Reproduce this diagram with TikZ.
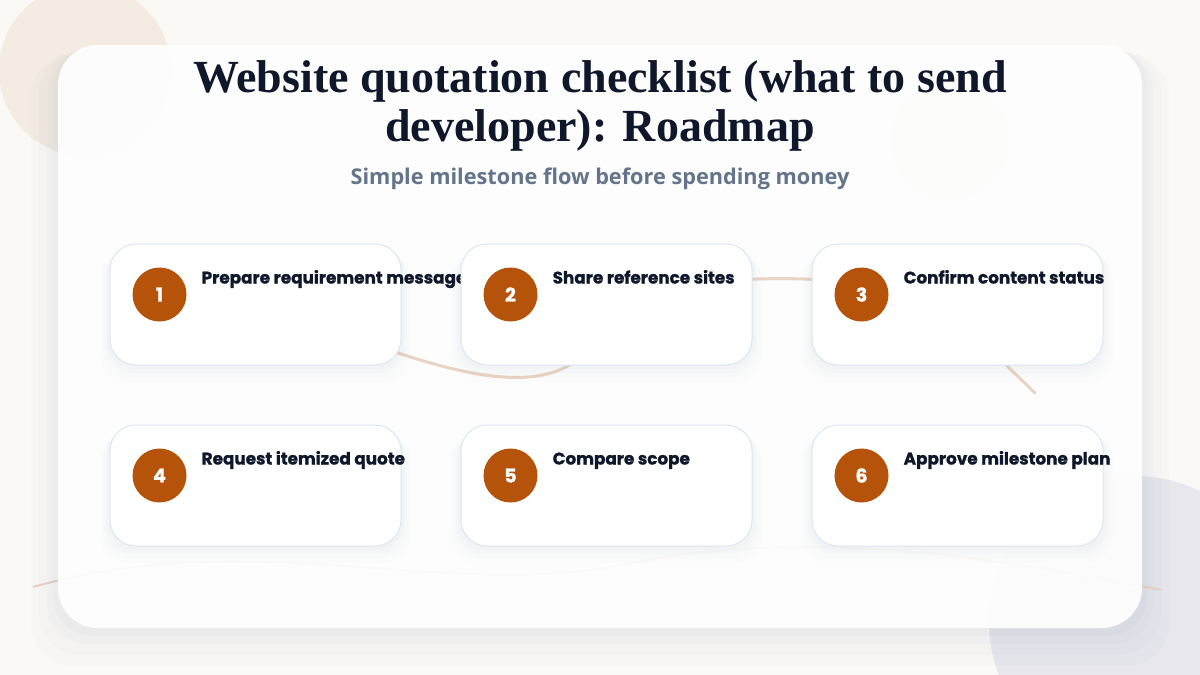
\documentclass[tikz,border=0pt]{standalone}
\usepackage{fontspec}
\setmainfont{Liberation Serif}
\newfontfamily\headfont{Liberation Serif}
\newfontfamily\subfont{Open Sans}
\newfontfamily\stepfont{Poppins}[BoldFeatures={FakeBold=1.2}]
\usetikzlibrary{positioning,shadows}
\definecolor{paper}{HTML}{FBF9F6}
\definecolor{ink}{HTML}{0F172A}
\definecolor{muted}{HTML}{64748B}
\definecolor{amber}{HTML}{B45309}
\definecolor{edge}{HTML}{DCE6F5}
\definecolor{trail}{HTML}{E8D4C2}
\definecolor{sand}{HTML}{F4ECE2}
\definecolor{mist}{HTML}{E7E7ED}
\definecolor{haze}{HTML}{7080A0}
\pgfdeclarelayer{back}
\pgfdeclarelayer{links}
\pgfsetlayers{back,links,main}
\tikzset{
  panel/.style={
    fill=white,
    fill opacity=.92,
    rounded corners=40pt,
    general shadow={shadow yshift=-22pt, shadow scale=1.05, fill=haze, opacity=.018},
    general shadow={shadow yshift=-16pt, shadow scale=1.035, fill=haze, opacity=.022},
    general shadow={shadow yshift=-10pt, shadow scale=1.02, fill=haze, opacity=.028},
    general shadow={shadow yshift=-5pt, shadow scale=1.01, fill=haze, opacity=.032}
  },
  stepcard/.style={
    draw=edge,
    line width=1pt,
    fill=white,
    rounded corners=26pt,
    minimum width=291pt,
    minimum height=121pt,
    inner sep=0pt,
    general shadow={shadow yshift=-12pt, shadow scale=1.07, fill=haze, opacity=.012},
    general shadow={shadow yshift=-9pt, shadow scale=1.05, fill=haze, opacity=.015},
    general shadow={shadow yshift=-6pt, shadow scale=1.03, fill=haze, opacity=.02},
    general shadow={shadow yshift=-3pt, shadow scale=1.015, fill=haze, opacity=.025}
  },
  badge/.style={
    circle,
    fill=amber,
    minimum size=54pt,
    inner sep=0pt,
    text=white,
    font=\stepfont\bfseries\fontsize{19}{19}\selectfont
  },
  steptext/.style={
    anchor=base west,
    inner sep=0pt,
    text=ink,
    font=\stepfont\bfseries\fontsize{16.8}{16.8}\selectfont
  },
  flow/.style={
    draw=trail,
    line width=3pt,
    line cap=round
  }
}

\begin{document}
\begin{tikzpicture}[x=1pt, y=-1pt, node distance=59pt and 59pt]
  \useasboundingbox (0,0) rectangle (1200,675);

  % backdrop
  \begin{pgfonlayer}{back}
    \fill[paper] (0,0) rectangle (1200,675);
    \fill[sand] (85,70) circle[radius=86pt];
    \fill[mist] (1135,622) circle[radius=146pt];
    \draw[trail, line width=2pt] (33,587) .. controls (250,525) and (450,600) .. (620,565)
      .. controls (820,525) and (1000,560) .. (1162,590);
    \path[panel] (58,45) rectangle (1142,628);
    \fill[sand, opacity=.06] (950,140) circle[radius=58pt];
  \end{pgfonlayer}

  % heading
  \node[anchor=north, inner sep=0pt, align=center, text=ink,
    font=\headfont\bfseries\fontsize{46}{49}\selectfont] (title) at (600,60)
    {Website quotation checklist (what to send\\developer): Roadmap};
  \node[anchor=base, inner sep=0pt, text=muted,
    font=\subfont\bfseries\fontsize{21.7}{21.7}\selectfont] (subtitle) at (600,184)
    {Simple milestone flow before spending money};

  % steps
  \node[stepcard] (s1) at (255.5,304.5) {};
  \node[badge] (b1) at ([xshift=50pt, yshift=10pt]s1.west) {1};
  \node[steptext] (t1) at ([xshift=92pt, yshift=-40pt]s1.north west) {Prepare requirement message};

  \node[stepcard, right=of s1] (s2) {};
  \node[badge] (b2) at ([xshift=50pt, yshift=10pt]s2.west) {2};
  \node[steptext] (t2) at ([xshift=92pt, yshift=-40pt]s2.north west) {Share reference sites};

  \node[stepcard, right=of s2] (s3) {};
  \node[badge] (b3) at ([xshift=50pt, yshift=10pt]s3.west) {3};
  \node[steptext] (t3) at ([xshift=92pt, yshift=-40pt]s3.north west) {Confirm content status};

  \node[stepcard, below=of s1] (s4) {};
  \node[badge] (b4) at ([xshift=50pt, yshift=10pt]s4.west) {4};
  \node[steptext] (t4) at ([xshift=92pt, yshift=-40pt]s4.north west) {Request itemized quote};

  \node[stepcard, below=of s2] (s5) {};
  \node[badge] (b5) at ([xshift=50pt, yshift=10pt]s5.west) {5};
  \node[steptext] (t5) at ([xshift=92pt, yshift=-40pt]s5.north west) {Compare scope};

  \node[stepcard, below=of s3] (s6) {};
  \node[badge] (b6) at ([xshift=50pt, yshift=10pt]s6.west) {6};
  \node[steptext] (t6) at ([xshift=92pt, yshift=-40pt]s6.north west) {Approve milestone plan};

  % trail between steps
  \begin{pgfonlayer}{links}
    \coordinate (tail) at (1035,393);
    \draw[flow] (s1.center) .. controls (360,330) and (580,455) .. (s2.center);
    \draw[flow] (s2.center) .. controls (700,270) and (860,270) .. (s3.center);
    \draw[flow] (s3.center) .. controls (975,335) .. (tail);
  \end{pgfonlayer}
\end{tikzpicture}
\end{document}
